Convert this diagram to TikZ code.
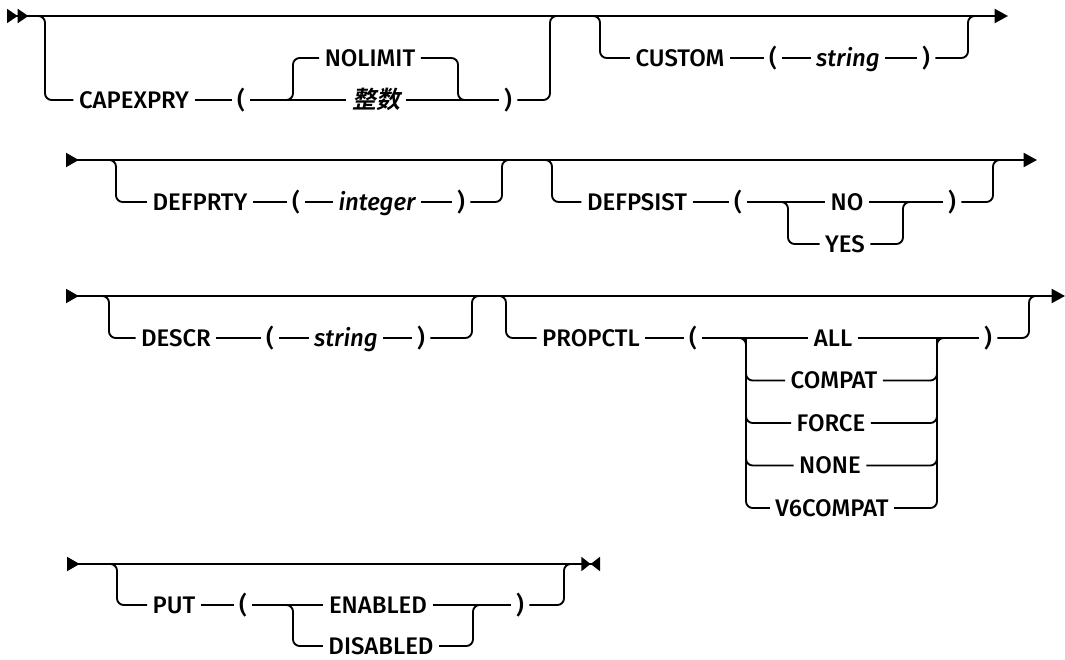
\documentclass[tikz,border=0pt]{standalone}
\usepackage{fontspec}
\setmainfont{Fira Sans}[UprightFont=* Medium, ItalicFont=* Medium Italic]
\newfontfamily\cjkfont[FakeSlant=0.2,BoldFont={* Bold},BoldFeatures={FakeSlant=0.2}]{Noto Sans CJK SC}
\usetikzlibrary{arrows.meta}

\tikzset{
  rail/.style={line width=1.4pt, rounded corners=5pt},
  kw/.style={font=\fontsize{18}{21}\selectfont, inner xsep=4pt, inner ysep=0pt,
    text height=12.4pt, text depth=0pt},
  var/.style={kw, font=\fontsize{18}{21}\selectfont\itshape},
  cjk/.style={kw, font=\cjkfont\bfseries\fontsize{18}{21}\selectfont},
  rowline/.style={{Triangle[reversed,length=9.5pt,width=10.5pt]}-{Triangle[length=10pt,width=10.5pt]}}
}

\begin{document}
\begin{tikzpicture}[x=0.75pt,y=-0.75pt]
\useasboundingbox (0,0) rectangle (1065,660);

% first row
\coordinate (s1) at (7,16);
\coordinate (e1) at (1008,16);
\draw[rail,{Triangle[reversed,length=8pt,width=10.5pt]Triangle[reversed,length=8pt,width=10.5pt]}-{Triangle[length=10pt,width=10.5pt]}] (s1) -- (e1);
\coordinate (cap-in) at (45,16);
\coordinate (cap-out) at (550,16);
\coordinate (nl-in) at (293,100);
\coordinate (nl-out) at (458,100);
\coordinate (cus-in) at (600,16);
\coordinate (cus-out) at (968,16);
\node[kw] (capexpry) at (134,100) {CAPEXPRY};
\node[kw] (lp1) at (241,100) {(};
\node[kw] (nolimit) at (370,58) {NOLIMIT};
\node[cjk] (zs) at (376,100) {整数};
\node[kw] (rp1) at (508,100) {)};
\node[kw] (custom) at (680,58) {CUSTOM};
\node[kw] (lp2) at (773,58) {(};
\node[var] (str1) at (848,58) {string};
\node[kw] (rp2) at (926,58) {)};
\draw[rail] (cap-in) ++(-10,0) -- (cap-in) |- (capexpry);
\draw[rail] (capexpry) -- (lp1) -- (zs) -- (rp1);
\draw[rail] (nl-in) ++(-10,0) -- (nl-in) |- (nolimit);
\draw[rail] (nolimit) -| (nl-out) -- ++(10,0);
\draw[rail] (rp1) -| (cap-out) -- ++(10,0);
\draw[rail] (cus-in) ++(-10,0) -- (cus-in) |- (custom);
\draw[rail] (custom) -- (lp2) -- (str1) -- (rp2);
\draw[rail] (rp2) -| (cus-out) -- ++(10,0);

% second row
\coordinate (s2) at (66,160);
\coordinate (e2) at (1037,160);
\draw[rail,rowline] (s2) -- (e2);
\coordinate (dpr-in) at (116,160);
\coordinate (dpr-out) at (502,160);
\coordinate (dps-in) at (552,160);
\coordinate (dps-out) at (993,160);
\coordinate (yes-in) at (788,202);
\coordinate (yes-out) at (903,202);
\node[kw] (defprty) at (200,202) {DEFPRTY};
\node[kw] (lp3) at (296,202) {(};
\node[var] (integer) at (377,202) {integer};
\node[kw] (rp3) at (461,202) {)};
\node[kw] (defpsist) at (637,202) {DEFPSIST};
\node[kw] (lp4) at (738,202) {(};
\node[kw] (no) at (847,202) {NO};
\node[kw] (yes) at (845,244) {YES};
\node[kw] (rp4) at (952,202) {)};
\draw[rail] (dpr-in) ++(-10,0) -- (dpr-in) |- (defprty);
\draw[rail] (defprty) -- (lp3) -- (integer) -- (rp3);
\draw[rail] (rp3) -| (dpr-out) -- ++(10,0);
\draw[rail] (dps-in) ++(-10,0) -- (dps-in) |- (defpsist);
\draw[rail] (defpsist) -- (lp4) -- (no) -- (rp4);
\draw[rail] (yes-in) ++(-10,0) -- (yes-in) |- (yes);
\draw[rail] (yes) -| (yes-out) -- ++(10,0);
\draw[rail] (rp4) -| (dps-out) -- ++(10,0);

% third row
\coordinate (s3) at (66,296);
\coordinate (e3) at (1065,296);
\draw[rail,rowline] (s3) -- (e3);
\coordinate (dsc-in) at (109,296);
\coordinate (dsc-out) at (472,296);
\coordinate (pc-in) at (506,296);
\coordinate (pc-out) at (1029,296);
\coordinate (opt-in) at (746,338);
\coordinate (opt-out) at (937,338);
\node[kw] (descr) at (176,338) {DESCR};
\node[kw] (lp5) at (270,338) {(};
\node[var] (str2) at (346,338) {string};
\node[kw] (rp5) at (421,338) {)};
\node[kw] (propctl) at (591,338) {PROPCTL};
\node[kw] (lp6) at (693,338) {(};
\node[kw] (all) at (833,338) {ALL};
\node[kw] (compat) at (834,380.5) {COMPAT};
\node[kw] (force) at (831,423) {FORCE};
\node[kw] (none) at (830,465.5) {NONE};
\node[kw] (vsix) at (832,508) {V6COMPAT};
\node[kw] (rp6) at (988,338) {)};
\draw[rail] (dsc-in) ++(-10,0) -- (dsc-in) |- (descr);
\draw[rail] (descr) -- (lp5) -- (str2) -- (rp5);
\draw[rail] (rp5) -| (dsc-out) -- ++(10,0);
\draw[rail] (pc-in) ++(-10,0) -- (pc-in) |- (propctl);
\draw[rail] (propctl) -- (lp6) -- (all) -- (rp6);
\draw[rail] (opt-in) ++(-10,0) -- (opt-in) |- (vsix);
\draw[rail] (vsix) -| (opt-out) -- ++(10,0);
\foreach \opt in {compat,force,none}{
  \draw[rail] (opt-in) |- (\opt);
  \draw[rail] (\opt) -| (opt-out);
}
\draw[rail] (rp6) -| (pc-out) -- ++(10,0);

% last row
\coordinate (s4) at (67,564);
\coordinate (e4) at (600,564);
\draw[rail,{Triangle[reversed,length=9.5pt,width=10.5pt]}-{Triangle[length=7pt,width=10.5pt]Triangle[reversed,length=7pt,width=10.5pt]}] (s4) -- (e4);
\coordinate (put-in) at (117,564);
\coordinate (put-out) at (564,564);
\coordinate (dis-in) at (293,605);
\coordinate (dis-out) at (473,605);
\node[kw] (put) at (174,605) {PUT};
\node[kw] (lp7) at (243,605) {(};
\node[kw] (enabled) at (378,605) {ENABLED};
\node[kw] (disabled) at (381,646) {DISABLED};
\node[kw] (rp7) at (520,605) {)};
\draw[rail] (put-in) ++(-10,0) -- (put-in) |- (put);
\draw[rail] (put) -- (lp7) -- (enabled) -- (rp7);
\draw[rail] (dis-in) ++(-10,0) -- (dis-in) |- (disabled);
\draw[rail] (disabled) -| (dis-out) -- ++(10,0);
\draw[rail] (rp7) -| (put-out) -- ++(10,0);
\end{tikzpicture}
\end{document}
